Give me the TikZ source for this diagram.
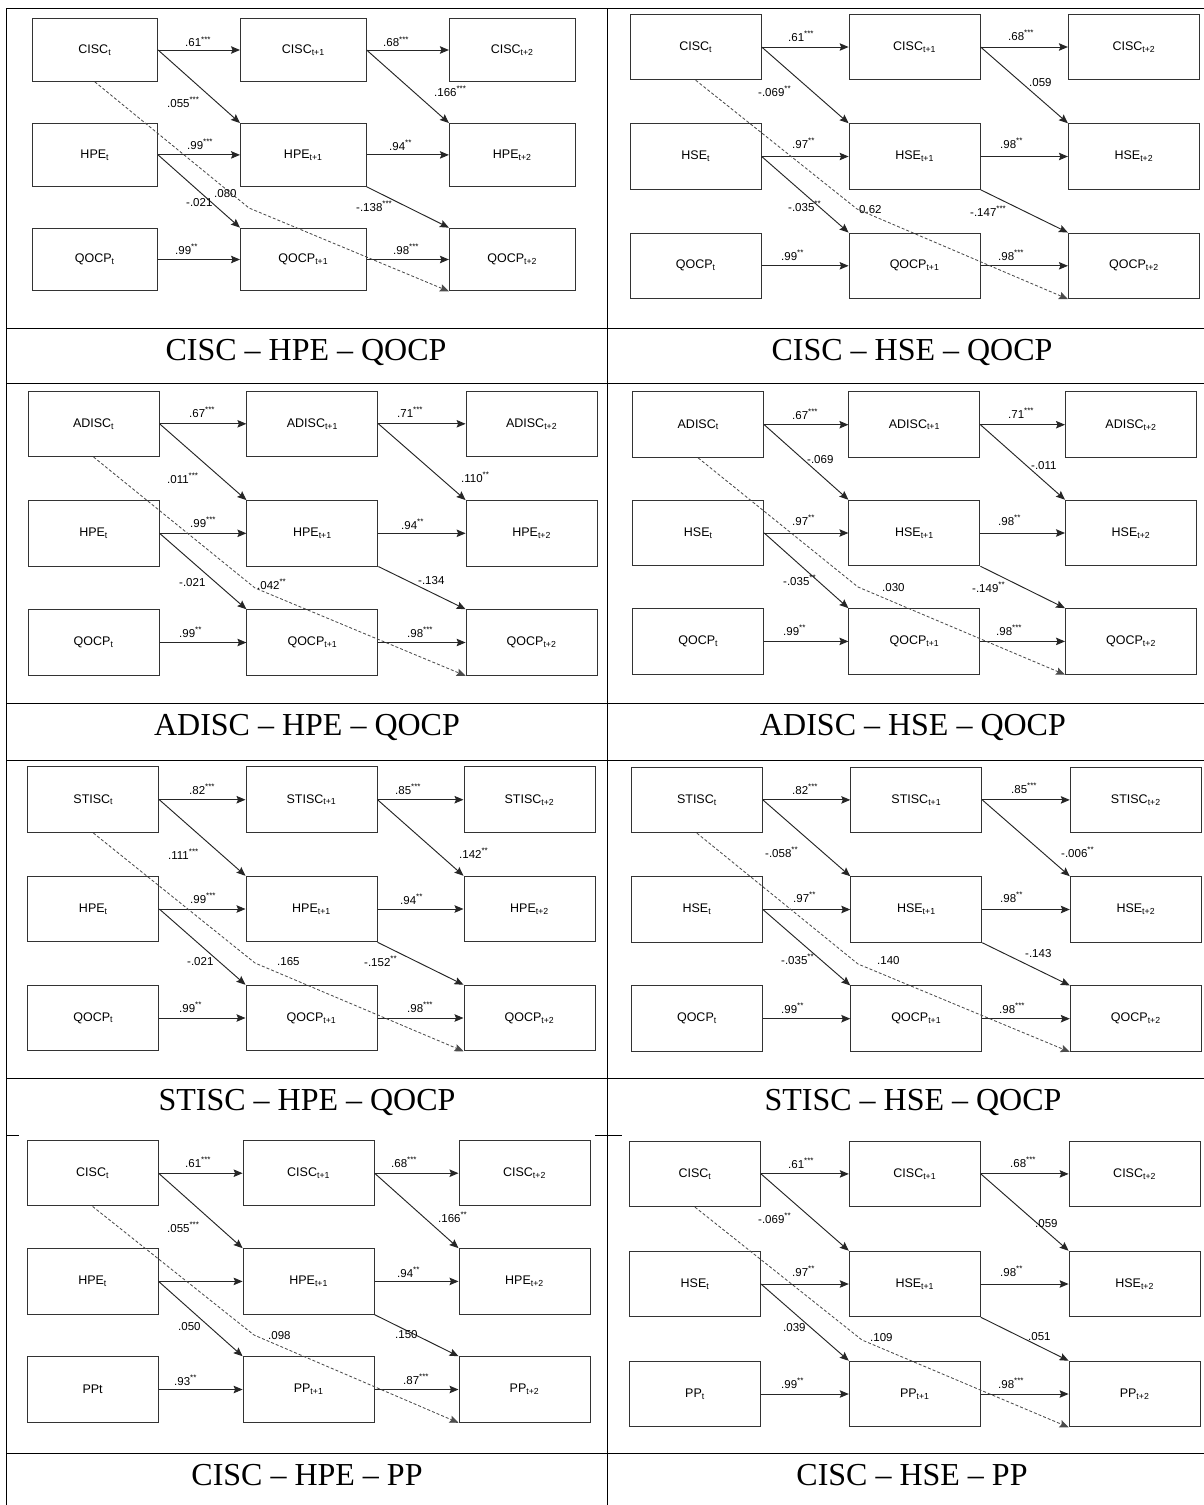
\documentclass[tikz,border=0pt]{standalone}
\usepackage{fontspec}
\setmainfont{Liberation Serif}
\setsansfont{Liberation Sans}
\usetikzlibrary{arrows.meta}
\newcommand{\sg}[1]{\textsuperscript{#1}}

\tikzset{
  var/.style={draw=black!80, line width=1pt, minimum width=131pt, minimum height=65.5pt, inner sep=0pt, font=\sffamily\fontsize{12.5}{14}\selectfont},
  lnk/.style={draw=black!85, line width=0.95pt, -{Stealth[length=9pt,width=7.5pt,inset=1.5pt]}},
  lag/.style={lnk, draw=black!70, line width=0.85pt, dash pattern=on 3pt off 2pt},
  coef/.style={anchor=base west, inner sep=0pt, font=\sffamily\fontsize{11.5}{12}\selectfont},
  ttl/.style={anchor=base, inner sep=0pt, font=\fontsize{32}{36}\selectfont},
  tab/.style={line width=1pt}
}

\begin{document}
\begin{tikzpicture}[x=1pt, y=-1pt]
\useasboundingbox (0,0) rectangle (1204,1505);

% table
\draw[tab] (6,8) -- (1204,8);
\draw[tab] (6,328) -- (1204,328);
\draw[tab] (6,383.5) -- (1204,383.5);
\draw[tab] (6,703) -- (1204,703);
\draw[tab] (6,760) -- (1204,760);
\draw[tab] (6,1078) -- (1204,1078);
\draw[tab] (6,1135) -- (19,1135);
\draw[tab] (595,1135) -- (622,1135);
\draw[tab] (6,1453) -- (1204,1453);
\draw[line width=0.8pt] (6,8) -- (6,1505);
\draw[line width=0.8pt] (607.5,8) -- (607.5,1505);

\node[ttl] (t1) at (306,360) {CISC – HPE – QOCP};
\node[ttl] (t2) at (912,360) {CISC – HSE – QOCP};
\node[ttl] (t3) at (307,735) {ADISC – HPE – QOCP};
\node[ttl] (t4) at (913,735) {ADISC – HSE – QOCP};
\node[ttl] (t5) at (307,1110) {STISC – HPE – QOCP};
\node[ttl] (t6) at (913,1110) {STISC – HSE – QOCP};
\node[ttl] (t7) at (307,1485) {CISC – HPE – PP};
\node[ttl] (t8) at (912,1485) {CISC – HSE – PP};

% panel 1
\begin{scope}[var/.append style={minimum width=125.6pt, minimum height=62.7pt}]
\node[var] (x10) at (94.8,50) {CISC\textsubscript{t}};
\node[var] (x11) at (303.3,50) {CISC\textsubscript{t+1}};
\node[var] (x12) at (512.2,50) {CISC\textsubscript{t+2}};
\node[var] (m10) at (94.8,154.9) {HPE\textsubscript{t}};
\node[var] (m11) at (303.3,154.9) {HPE\textsubscript{t+1}};
\node[var] (m12) at (512.2,154.9) {HPE\textsubscript{t+2}};
\node[var] (y10) at (94.8,259.5) {QOCP\textsubscript{t}};
\node[var] (y11) at (303.3,259.5) {QOCP\textsubscript{t+1}};
\node[var] (y12) at (512.2,259.5) {QOCP\textsubscript{t+2}};
\end{scope}
\coordinate (d1) at (249,208);
\draw[lnk] (x10) -- (x11);
\draw[lnk] (x11) -- (x12);
\draw[lnk] (m10) -- (m11);
\draw[lnk] (m11) -- (m12);
\draw[lnk] (y10) -- (y11);
\draw[lnk] (y11) -- (y12);
\draw[lnk] (x10.east) -- (m11.north west);
\draw[lnk] (x11.east) -- (m12.north west);
\draw[lnk] (m10.east) -- (y11.north west);
\draw[lnk] (m11.south east) -- (y12.north west);
\draw[lag] (x10.south) -- (d1) -- (y12.south west);
\node[coef] (l1a) at (185,46.7) {.61\sg{***}};
\node[coef] (l1b) at (383,46.7) {.68\sg{***}};
\node[coef] (l1c) at (187,149) {.99\sg{***}};
\node[coef] (l1d) at (389,150) {.94\sg{**}};
\node[coef] (l1e) at (175,254) {.99\sg{**}};
\node[coef] (l1f) at (393,254) {.98\sg{***}};
\node[coef] (l1g) at (167,107) {.055\sg{***}};
\node[coef] (l1h) at (434,96) {.166\sg{***}};
\node[coef] (l1i) at (186,206) {-.021};
\node[coef] (l1j) at (214,197) {.080};
\node[coef] (l1k) at (356,211) {-.138\sg{***}};

% panel 2
\node[var] (x20) at (695.7,47) {CISC\textsubscript{t}};
\node[var] (x21) at (914.6,47) {CISC\textsubscript{t+1}};
\node[var] (x22) at (1133.9,47) {CISC\textsubscript{t+2}};
\node[var] (m20) at (695.7,156.5) {HSE\textsubscript{t}};
\node[var] (m21) at (914.6,156.5) {HSE\textsubscript{t+1}};
\node[var] (m22) at (1133.9,156.5) {HSE\textsubscript{t+2}};
\node[var] (y20) at (695.7,265.8) {QOCP\textsubscript{t}};
\node[var] (y21) at (914.6,265.8) {QOCP\textsubscript{t+1}};
\node[var] (y22) at (1133.9,265.8) {QOCP\textsubscript{t+2}};
\coordinate (d2) at (857,209);
\draw[lnk] (x20) -- (x21);
\draw[lnk] (x21) -- (x22);
\draw[lnk] (m20) -- (m21);
\draw[lnk] (m21) -- (m22);
\draw[lnk] (y20) -- (y21);
\draw[lnk] (y21) -- (y22);
\draw[lnk] (x20.east) -- (m21.north west);
\draw[lnk] (x21.east) -- (m22.north west);
\draw[lnk] (m20.east) -- (y21.north west);
\draw[lnk] (m21.south east) -- (y22.north west);
\draw[lag] (x20.south) -- (d2) -- (y22.south west);
\node[coef] (l2a) at (788,41) {.61\sg{***}};
\node[coef] (l2b) at (1008,40) {.68\sg{***}};
\node[coef] (l2c) at (792,148) {.97\sg{**}};
\node[coef] (l2d) at (1000,148) {.98\sg{**}};
\node[coef] (l2e) at (781,260) {.99\sg{**}};
\node[coef] (l2f) at (998,260) {.98\sg{***}};
\node[coef] (l2g) at (758,96) {-.069\sg{**}};
\node[coef] (l2h) at (1029,86) {.059};
\node[coef] (l2i) at (788,211) {-.035\sg{**}};
\node[coef] (l2j) at (859,213) {0.62};
\node[coef] (l2k) at (970,216) {-.147\sg{***}};

% panel 3
\node[var] (x30) at (93.6,423.8) {ADISC\textsubscript{t}};
\node[var] (x31) at (312.4,423.8) {ADISC\textsubscript{t+1}};
\node[var] (x32) at (531.6,423.8) {ADISC\textsubscript{t+2}};
\node[var] (m30) at (93.6,533.3) {HPE\textsubscript{t}};
\node[var] (m31) at (312.4,533.3) {HPE\textsubscript{t+1}};
\node[var] (m32) at (531.6,533.3) {HPE\textsubscript{t+2}};
\node[var] (y30) at (93.6,642.5) {QOCP\textsubscript{t}};
\node[var] (y31) at (312.4,642.5) {QOCP\textsubscript{t+1}};
\node[var] (y32) at (531.6,642.5) {QOCP\textsubscript{t+2}};
\coordinate (d3) at (255,588);
\draw[lnk] (x30) -- (x31);
\draw[lnk] (x31) -- (x32);
\draw[lnk] (m30) -- (m31);
\draw[lnk] (m31) -- (m32);
\draw[lnk] (y30) -- (y31);
\draw[lnk] (y31) -- (y32);
\draw[lnk] (x30.east) -- (m31.north west);
\draw[lnk] (x31.east) -- (m32.north west);
\draw[lnk] (m30.east) -- (y31.north west);
\draw[lnk] (m31.south east) -- (y32.north west);
\draw[lag] (x30.south) -- (d3) -- (y32.south west);
\node[coef] (l3a) at (189,417) {.67\sg{***}};
\node[coef] (l3b) at (397,417) {.71\sg{***}};
\node[coef] (l3c) at (190,527) {.99\sg{***}};
\node[coef] (l3d) at (401,529) {.94\sg{**}};
\node[coef] (l3e) at (179,637) {.99\sg{**}};
\node[coef] (l3f) at (407,637) {.98\sg{***}};
\node[coef] (l3g) at (167,483) {.011\sg{***}};
\node[coef] (l3h) at (461,482) {.110\sg{**}};
\node[coef] (l3i) at (179,586) {-.021};
\node[coef] (l3j) at (257,589) {.042\sg{**}};
\node[coef] (l3k) at (418,584) {-.134};

% panel 4
\node[var] (x40) at (698.2,424.7) {ADISC\textsubscript{t}};
\node[var] (x41) at (914.4,424.7) {ADISC\textsubscript{t+1}};
\node[var] (x42) at (1131,424.7) {ADISC\textsubscript{t+2}};
\node[var] (m40) at (698.2,533) {HSE\textsubscript{t}};
\node[var] (m41) at (914.4,533) {HSE\textsubscript{t+1}};
\node[var] (m42) at (1131,533) {HSE\textsubscript{t+2}};
\node[var] (y40) at (698.2,641.4) {QOCP\textsubscript{t}};
\node[var] (y41) at (914.4,641.4) {QOCP\textsubscript{t+1}};
\node[var] (y42) at (1131,641.4) {QOCP\textsubscript{t+2}};
\coordinate (d4) at (858,587);
\draw[lnk] (x40) -- (x41);
\draw[lnk] (x41) -- (x42);
\draw[lnk] (m40) -- (m41);
\draw[lnk] (m41) -- (m42);
\draw[lnk] (y40) -- (y41);
\draw[lnk] (y41) -- (y42);
\draw[lnk] (x40.east) -- (m41.north west);
\draw[lnk] (x41.east) -- (m42.north west);
\draw[lnk] (m40.east) -- (y41.north west);
\draw[lnk] (m41.south east) -- (y42.north west);
\draw[lag] (x40.south) -- (d4) -- (y42.south west);
\node[coef] (l4a) at (792,419) {.67\sg{***}};
\node[coef] (l4b) at (1008,418) {.71\sg{***}};
\node[coef] (l4c) at (792,525) {.97\sg{**}};
\node[coef] (l4d) at (998,525) {.98\sg{**}};
\node[coef] (l4e) at (783,635) {.99\sg{**}};
\node[coef] (l4f) at (996,635) {.98\sg{***}};
\node[coef] (l4g) at (807,463) {-.069};
\node[coef] (l4h) at (1031,469) {-.011};
\node[coef] (l4i) at (783,585) {-.035\sg{**}};
\node[coef] (l4j) at (882,591) {.030};
\node[coef] (l4k) at (972,592) {-.149\sg{**}};

% panel 5
\node[var] (x50) at (93.3,799.7) {STISC\textsubscript{t}};
\node[var] (x51) at (311.5,799.7) {STISC\textsubscript{t+1}};
\node[var] (x52) at (529.5,799.7) {STISC\textsubscript{t+2}};
\node[var] (m50) at (93.3,909) {HPE\textsubscript{t}};
\node[var] (m51) at (311.5,909) {HPE\textsubscript{t+1}};
\node[var] (m52) at (529.5,909) {HPE\textsubscript{t+2}};
\node[var] (y50) at (93.3,1018) {QOCP\textsubscript{t}};
\node[var] (y51) at (311.5,1018) {QOCP\textsubscript{t+1}};
\node[var] (y52) at (529.5,1018) {QOCP\textsubscript{t+2}};
\coordinate (d5) at (255,963);
\draw[lnk] (x50) -- (x51);
\draw[lnk] (x51) -- (x52);
\draw[lnk] (m50) -- (m51);
\draw[lnk] (m51) -- (m52);
\draw[lnk] (y50) -- (y51);
\draw[lnk] (y51) -- (y52);
\draw[lnk] (x50.east) -- (m51.north west);
\draw[lnk] (x51.east) -- (m52.north west);
\draw[lnk] (m50.east) -- (y51.north west);
\draw[lnk] (m51.south east) -- (y52.north west);
\draw[lag] (x50.south) -- (d5) -- (y52.south west);
\node[coef] (l5a) at (189,794) {.82\sg{***}};
\node[coef] (l5b) at (395,794) {.85\sg{***}};
\node[coef] (l5c) at (190,903) {.99\sg{***}};
\node[coef] (l5d) at (400,904) {.94\sg{**}};
\node[coef] (l5e) at (179,1012) {.99\sg{**}};
\node[coef] (l5f) at (407,1012) {.98\sg{***}};
\node[coef] (l5g) at (168,859) {.111\sg{***}};
\node[coef] (l5h) at (459,858) {.142\sg{**}};
\node[coef] (l5i) at (187,965) {-.021};
\node[coef] (l5j) at (277,965) {.165};
\node[coef] (l5k) at (364,966) {-.152\sg{**}};

% panel 6
\node[var] (x60) at (696.9,799.9) {STISC\textsubscript{t}};
\node[var] (x61) at (916.3,799.9) {STISC\textsubscript{t+1}};
\node[var] (x62) at (1135.8,799.9) {STISC\textsubscript{t+2}};
\node[var] (m60) at (696.9,909.5) {HSE\textsubscript{t}};
\node[var] (m61) at (916.3,909.5) {HSE\textsubscript{t+1}};
\node[var] (m62) at (1135.8,909.5) {HSE\textsubscript{t+2}};
\node[var] (y60) at (696.9,1018.7) {QOCP\textsubscript{t}};
\node[var] (y61) at (916.3,1018.7) {QOCP\textsubscript{t+1}};
\node[var] (y62) at (1135.8,1018.7) {QOCP\textsubscript{t+2}};
\coordinate (d6) at (858,964);
\draw[lnk] (x60) -- (x61);
\draw[lnk] (x61) -- (x62);
\draw[lnk] (m60) -- (m61);
\draw[lnk] (m61) -- (m62);
\draw[lnk] (y60) -- (y61);
\draw[lnk] (y61) -- (y62);
\draw[lnk] (x60.east) -- (m61.north west);
\draw[lnk] (x61.east) -- (m62.north west);
\draw[lnk] (m60.east) -- (y61.north west);
\draw[lnk] (m61.south east) -- (y62.north west);
\draw[lag] (x60.south) -- (d6) -- (y62.south west);
\node[coef] (l6a) at (792,794) {.82\sg{***}};
\node[coef] (l6b) at (1011,793) {.85\sg{***}};
\node[coef] (l6c) at (793,902) {.97\sg{**}};
\node[coef] (l6d) at (1000,902) {.98\sg{**}};
\node[coef] (l6e) at (781,1013) {.99\sg{**}};
\node[coef] (l6f) at (999,1013) {.98\sg{***}};
\node[coef] (l6g) at (765,857) {-.058\sg{**}};
\node[coef] (l6h) at (1061,857) {-.006\sg{**}};
\node[coef] (l6i) at (781,964) {-.035\sg{**}};
\node[coef] (l6j) at (877,964) {.140};
\node[coef] (l6k) at (1025,957) {-.143};

% panel 7
\node[var] (x70) at (92.6,1173.2) {CISC\textsubscript{t}};
\node[var] (x71) at (308.6,1173.2) {CISC\textsubscript{t+1}};
\node[var] (x72) at (524.5,1173.2) {CISC\textsubscript{t+2}};
\node[var] (m70) at (92.6,1281.4) {HPE\textsubscript{t}};
\node[var] (m71) at (308.6,1281.4) {HPE\textsubscript{t+1}};
\node[var] (m72) at (524.5,1281.4) {HPE\textsubscript{t+2}};
\node[var] (y70) at (92.6,1389.5) {PPt};
\node[var] (y71) at (308.6,1389.5) {PP\textsubscript{t+1}};
\node[var] (y72) at (524.5,1389.5) {PP\textsubscript{t+2}};
\coordinate (d7) at (254,1335);
\draw[lnk] (x70) -- (x71);
\draw[lnk] (x71) -- (x72);
\draw[lnk] (m70) -- (m71);
\draw[lnk] (m71) -- (m72);
\draw[lnk] (y70) -- (y71);
\draw[lnk] (y71) -- (y72);
\draw[lnk] (x70.east) -- (m71.north west);
\draw[lnk] (x71.east) -- (m72.north west);
\draw[lnk] (m70.east) -- (y71.north west);
\draw[lnk] (m71.south east) -- (y72.north west);
\draw[lag] (x70.south) -- (d7) -- (y72.south west);
\node[coef] (l7a) at (185,1167) {.61\sg{***}};
\node[coef] (l7b) at (391,1167) {.68\sg{***}};
\node[coef] (l7d) at (397,1277) {.94\sg{**}};
\node[coef] (l7e) at (174,1385) {.93\sg{**}};
\node[coef] (l7f) at (403,1384) {.87\sg{***}};
\node[coef] (l7g) at (167,1232) {.055\sg{***}};
\node[coef] (l7h) at (438,1222) {.166\sg{**}};
\node[coef] (l7i) at (178,1330) {.050};
\node[coef] (l7j) at (268,1339) {.098};
\node[coef] (l7k) at (395,1338) {.150};

% panel 8
\node[var] (x80) at (695,1173.9) {CISC\textsubscript{t}};
\node[var] (x81) at (914.8,1173.9) {CISC\textsubscript{t+1}};
\node[var] (x82) at (1134.6,1173.9) {CISC\textsubscript{t+2}};
\node[var] (m80) at (695,1284) {HSE\textsubscript{t}};
\node[var] (m81) at (914.8,1284) {HSE\textsubscript{t+1}};
\node[var] (m82) at (1134.6,1284) {HSE\textsubscript{t+2}};
\node[var] (y80) at (695,1394) {PP\textsubscript{t}};
\node[var] (y81) at (914.8,1394) {PP\textsubscript{t+1}};
\node[var] (y82) at (1134.6,1394) {PP\textsubscript{t+2}};
\coordinate (d8) at (862,1340);
\draw[lnk] (x80) -- (x81);
\draw[lnk] (x81) -- (x82);
\draw[lnk] (m80) -- (m81);
\draw[lnk] (m81) -- (m82);
\draw[lnk] (y80) -- (y81);
\draw[lnk] (y81) -- (y82);
\draw[lnk] (x80.east) -- (m81.north west);
\draw[lnk] (x81.east) -- (m82.north west);
\draw[lnk] (m80.east) -- (y81.north west);
\draw[lnk] (m81.south east) -- (y82.north west);
\draw[lag] (x80.south) -- (d8) -- (y82.south west);
\node[coef] (l8a) at (788,1168) {.61\sg{***}};
\node[coef] (l8b) at (1010,1167) {.68\sg{***}};
\node[coef] (l8c) at (792,1276) {.97\sg{**}};
\node[coef] (l8d) at (1000,1276) {.98\sg{**}};
\node[coef] (l8e) at (781,1388) {.99\sg{**}};
\node[coef] (l8f) at (998,1388) {.98\sg{***}};
\node[coef] (l8g) at (758,1223) {-.069\sg{**}};
\node[coef] (l8h) at (1035,1227) {.059};
\node[coef] (l8i) at (783,1331) {.039};
\node[coef] (l8j) at (870,1341) {.109};
\node[coef] (l8k) at (1028,1340) {.051};
\end{tikzpicture}
\end{document}
